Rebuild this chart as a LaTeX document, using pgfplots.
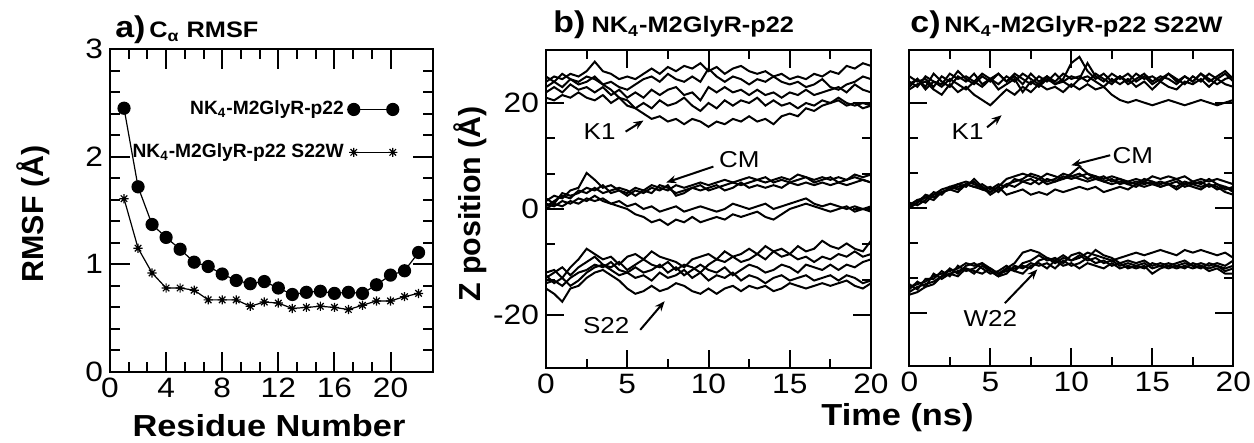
\documentclass[border=0pt]{standalone}
\usepackage{fontspec}
\setmainfont{Liberation Sans}
\usepackage{graphicx}
\usepackage{pgfplots}
\usepackage{pgfplotstable}
\pgfplotsset{compat=1.18}
\usetikzlibrary{arrows.meta}
\newcommand{\hs}[1]{\scalebox{1.13}[1]{#1}}

\pgfdeclareplotmark{xstar}{%
  \pgfpathmoveto{\pgfqpoint{-\pgfplotmarksize}{0pt}}\pgfpathlineto{\pgfqpoint{\pgfplotmarksize}{0pt}}%
  \pgfpathmoveto{\pgfqpoint{0pt}{-\pgfplotmarksize}}\pgfpathlineto{\pgfqpoint{0pt}{\pgfplotmarksize}}%
  \pgfpathmoveto{\pgfqpoint{-0.707\pgfplotmarksize}{-0.707\pgfplotmarksize}}\pgfpathlineto{\pgfqpoint{0.707\pgfplotmarksize}{0.707\pgfplotmarksize}}%
  \pgfpathmoveto{\pgfqpoint{-0.707\pgfplotmarksize}{0.707\pgfplotmarksize}}\pgfpathlineto{\pgfqpoint{0.707\pgfplotmarksize}{-0.707\pgfplotmarksize}}%
  \pgfusepathqstroke}

\pgfplotstableread{
x y
1 2.45
2 1.72
3 1.37
4 1.25
5 1.14
6 1.02
7 0.98
8 0.91
9 0.85
10 0.82
11 0.84
12 0.78
13 0.72
14 0.74
15 0.75
16 0.73
17 0.74
18 0.73
19 0.81
20 0.90
21 0.94
22 1.11
}\rmsfA

\pgfplotstableread{
x y
1 1.61
2 1.15
3 0.92
4 0.78
5 0.78
6 0.76
7 0.67
8 0.67
9 0.67
10 0.61
11 0.65
12 0.64
13 0.59
14 0.60
15 0.61
16 0.60
17 0.58
18 0.62
19 0.66
20 0.66
21 0.70
22 0.73
}\rmsfB

\pgfplotstableread{
t A B C D E
0.0 24.0 25.0 22.0 21.0 23.0
0.5 25.0 24.0 23.0 20.5 24.0
1.0 24.5 25.5 22.0 21.5 23.0
1.5 25.5 24.5 23.5 21.0 24.5
2.0 25.0 24.0 22.5 22.0 23.5
2.5 26.0 25.0 23.0 21.0 24.0
3.0 27.8 24.5 22.0 20.5 25.0
3.5 26.0 23.5 23.0 21.5 23.5
4.0 25.5 24.0 21.5 20.0 22.5
4.5 24.5 23.0 22.5 21.0 21.0
5.0 25.0 22.5 21.0 19.5 20.5
5.5 24.5 23.5 22.0 19.0 19.0
6.0 25.5 24.5 21.0 20.0 18.0
6.5 26.5 25.0 22.5 19.0 17.0
7.0 25.5 24.0 21.5 20.5 17.5
7.5 26.8 25.5 22.5 19.5 16.5
8.0 26.0 24.5 23.0 20.0 17.0
8.5 27.0 24.0 21.5 21.0 16.0
9.0 26.5 25.0 22.0 19.5 17.0
9.5 27.5 24.0 20.5 18.5 16.5
10.0 26.0 26.5 23.0 20.0 15.5
10.5 26.8 25.0 22.0 19.0 16.5
11.0 25.5 24.0 23.0 20.5 16.0
11.5 26.5 25.0 22.0 19.5 17.0
12.0 27.0 24.5 22.5 20.5 16.5
12.5 26.0 23.5 21.5 20.0 17.5
13.0 25.5 24.5 22.5 21.0 16.5
13.5 26.0 24.0 21.5 19.5 17.0
14.0 25.0 25.0 22.0 20.5 16.0
14.5 25.5 24.0 21.0 19.5 17.5
15.0 24.5 23.5 22.0 20.0 18.0
15.5 25.0 24.0 21.5 19.0 17.5
16.0 24.5 23.0 22.5 20.0 19.0
16.5 25.5 23.5 21.5 19.5 18.5
17.0 25.0 24.5 22.0 20.5 19.5
17.5 26.0 23.0 22.5 20.0 20.0
18.0 25.5 22.5 23.0 21.0 20.5
18.5 27.0 23.5 22.0 20.0 19.5
19.0 26.5 24.0 23.5 19.5 20.0
19.5 27.5 25.0 22.5 20.0 19.0
20.0 27.0 24.5 22.0 19.5 19.5
}\bK

\pgfplotstableread{
t A B C D E
0.0 1.5 0.5 2.0 1.0 0.0
0.5 2.5 1.5 1.0 0.5 1.0
1.0 2.0 2.5 3.0 1.5 0.5
1.5 3.5 2.0 2.5 1.0 1.5
2.0 4.0 3.5 3.0 2.0 1.0
2.5 6.8 3.0 4.0 1.5 2.0
3.0 5.5 4.0 3.5 2.5 1.5
3.5 4.0 3.0 4.5 1.5 2.0
4.0 4.5 3.5 3.0 1.0 1.0
4.5 3.5 4.0 3.5 1.5 0.5
5.0 3.0 3.5 2.5 0.5 0.0
5.5 4.0 2.5 3.5 1.0 -1.0
6.0 3.5 3.5 3.0 0.0 -1.5
6.5 4.5 3.0 4.0 0.5 -2.5
7.0 4.0 4.5 3.5 -0.5 -2.0
7.5 3.5 4.0 4.5 0.0 -3.0
8.0 4.5 3.0 2.5 0.5 -2.0
8.5 4.0 3.5 3.0 -0.5 -2.5
9.0 4.5 4.0 4.0 0.0 -1.5
9.5 5.0 4.5 3.5 0.5 -2.5
10.0 4.5 3.5 4.0 0.0 -2.0
10.5 5.0 4.0 4.5 -0.5 -1.5
11.0 5.5 4.5 3.5 0.0 -2.0
11.5 5.0 5.0 4.0 1.0 -1.0
12.0 5.5 4.5 5.0 0.5 -1.5
12.5 6.0 5.0 4.0 0.0 -1.0
13.0 5.5 5.5 4.5 0.5 -0.5
13.5 5.0 6.0 4.0 1.0 -1.5
14.0 5.5 5.0 4.5 0.0 -2.0
14.5 6.0 5.5 4.0 0.5 -1.0
15.0 5.5 5.0 5.0 1.0 0.0
15.5 6.5 5.5 4.5 1.5 0.5
16.0 6.0 6.0 5.0 2.0 1.0
16.5 5.5 5.0 4.5 1.0 0.5
17.0 6.0 5.5 5.0 0.5 0.0
17.5 5.5 6.0 4.5 1.0 -0.5
18.0 6.0 5.0 5.0 0.5 0.0
18.5 5.5 5.5 4.5 0.0 0.5
19.0 6.5 6.0 5.0 0.5 -0.5
19.5 6.0 5.5 5.5 0.0 0.0
20.0 6.5 5.0 5.0 0.5 -0.5
}\bCM

\pgfplotstableread{
t A B C D E
0.0 -12.0 -13.0 -14.0 -12.5 -15.0
0.5 -11.5 -12.0 -13.5 -14.0 -16.0
1.0 -13.0 -11.0 -14.5 -13.0 -17.5
1.5 -11.0 -12.5 -13.0 -14.5 -15.0
2.0 -9.5 -11.0 -12.0 -13.5 -14.5
2.5 -7.5 -10.0 -11.5 -12.0 -13.0
3.0 -8.5 -9.0 -10.5 -11.0 -12.0
3.5 -9.5 -10.5 -11.0 -10.5 -11.5
4.0 -9.0 -11.0 -10.0 -11.5 -12.5
4.5 -10.5 -10.0 -11.5 -12.5 -13.5
5.0 -9.0 -11.5 -12.0 -12.0 -15.0
5.5 -8.5 -10.5 -11.0 -13.0 -16.0
6.0 -9.5 -9.5 -12.0 -12.5 -15.5
6.5 -8.0 -10.5 -11.5 -13.5 -14.5
7.0 -9.0 -11.0 -10.5 -12.0 -15.5
7.5 -9.5 -10.0 -12.0 -13.0 -15.0
8.0 -10.0 -11.5 -11.0 -12.5 -14.0
8.5 -11.0 -10.5 -12.5 -11.5 -14.5
9.0 -9.5 -11.0 -11.5 -13.0 -15.5
9.5 -9.0 -12.0 -10.5 -12.0 -16.0
10.0 -8.5 -10.5 -11.5 -13.5 -15.0
10.5 -9.5 -9.5 -12.0 -12.5 -16.0
11.0 -8.0 -10.0 -11.0 -13.0 -15.0
11.5 -9.0 -9.0 -12.5 -12.0 -14.5
12.0 -8.5 -10.0 -11.5 -13.5 -15.5
12.5 -7.5 -9.5 -10.5 -12.5 -14.5
13.0 -8.5 -8.5 -11.0 -13.0 -15.0
13.5 -7.0 -9.5 -12.0 -14.0 -14.5
14.0 -8.0 -8.0 -11.5 -13.0 -15.5
14.5 -7.5 -9.0 -10.5 -12.5 -15.0
15.0 -8.5 -8.5 -11.0 -13.5 -14.0
15.5 -7.0 -9.5 -12.0 -13.0 -14.5
16.0 -8.0 -9.0 -10.5 -12.5 -15.0
16.5 -7.5 -10.0 -11.0 -13.5 -14.5
17.0 -6.0 -9.0 -11.5 -13.0 -14.0
17.5 -7.0 -9.5 -10.5 -12.5 -14.5
18.0 -7.5 -8.5 -11.5 -13.5 -14.0
18.5 -6.5 -9.0 -10.5 -12.5 -13.5
19.0 -7.5 -8.0 -11.0 -13.0 -14.5
19.5 -8.0 -9.0 -10.0 -14.0 -15.0
20.0 -6.0 -8.5 -9.5 -13.5 -14.0
}\bS

\pgfplotstableread{
t A B C D E
0.0 24.0 23.5 25.0 22.5 23.0
0.5 23.0 24.5 24.0 23.5 24.5
1.0 25.0 23.0 24.5 24.0 22.5
1.5 24.0 25.5 23.0 22.5 24.0
2.0 23.5 24.0 25.0 21.5 23.0
2.5 25.5 23.0 24.0 23.5 24.5
3.0 24.5 25.0 26.0 22.0 23.5
3.5 25.0 24.0 24.5 23.0 22.5
4.0 24.0 25.5 23.5 21.5 24.0
4.5 25.5 23.5 25.0 20.5 23.0
5.0 24.5 24.5 24.0 19.5 24.5
5.5 23.5 25.5 25.5 21.0 22.5
6.0 25.0 24.0 24.0 22.5 23.5
6.5 24.0 25.0 25.5 21.5 24.5
7.0 25.5 23.5 24.5 23.0 22.0
7.5 24.5 25.5 23.5 22.0 24.0
8.0 23.5 24.0 25.0 23.5 23.0
8.5 25.0 25.0 24.0 22.5 24.5
9.0 24.0 23.5 25.5 23.0 23.5
9.5 25.5 24.5 24.0 22.0 24.0
10.0 24.5 27.5 25.0 23.5 23.0
10.5 25.0 28.7 24.5 22.5 24.5
11.0 24.0 26.0 27.5 23.5 25.0
11.5 25.5 24.5 25.0 22.5 24.0
12.0 24.5 25.5 24.0 23.0 23.0
12.5 23.5 24.0 25.5 21.5 24.5
13.0 25.0 25.0 24.5 20.5 23.5
13.5 24.0 23.5 25.5 20.0 24.5
14.0 25.5 24.5 24.0 20.5 23.0
14.5 24.5 25.5 25.0 20.0 24.0
15.0 25.0 24.0 23.5 19.5 22.5
15.5 24.0 25.0 24.5 20.0 24.0
16.0 25.5 24.5 25.5 20.5 23.0
16.5 24.5 23.5 24.0 20.0 22.5
17.0 23.5 25.0 25.0 19.5 24.0
17.5 25.0 24.0 24.0 20.0 23.5
18.0 24.0 25.5 25.5 20.5 24.5
18.5 25.5 24.5 24.0 20.0 23.0
19.0 24.5 23.5 25.0 19.5 24.5
19.5 25.5 24.5 26.0 20.0 23.5
20.0 24.0 25.0 24.5 20.5 23.0
}\cK

\pgfplotstableread{
t A B C D E
0.0 0.5 0.0 1.0 0.5 0.0
0.5 1.5 1.0 0.5 1.5 1.0
1.0 2.0 2.5 1.5 1.0 2.0
1.5 2.5 2.0 3.0 2.5 1.5
2.0 3.5 3.0 2.5 3.0 3.0
2.5 4.0 3.5 4.0 3.5 3.5
3.0 4.5 4.0 3.5 4.5 3.0
3.5 5.0 4.5 4.5 4.0 4.5
4.0 4.5 5.0 4.0 5.5 4.0
4.5 4.0 3.5 4.5 4.0 3.5
5.0 3.0 4.0 3.5 2.5 3.0
5.5 4.0 3.0 4.5 3.5 4.0
6.0 5.5 4.5 4.0 4.5 2.5
6.5 6.0 5.0 5.5 4.0 3.0
7.0 6.5 5.5 5.0 5.0 3.5
7.5 6.0 6.5 5.5 4.5 2.5
8.0 5.5 6.0 4.5 5.5 3.0
8.5 6.5 5.0 5.5 4.5 2.5
9.0 6.0 5.5 5.0 5.0 3.5
9.5 5.5 6.5 6.0 5.5 3.0
10.0 6.5 6.0 5.5 6.0 3.5
10.5 7.8 6.5 6.0 5.5 4.0
11.0 6.5 5.5 6.5 5.0 3.5
11.5 6.0 6.0 5.5 5.5 4.0
12.0 5.5 5.0 6.0 5.0 3.0
12.5 6.0 5.5 5.0 4.5 3.5
13.0 5.5 4.5 5.5 5.0 4.0
13.5 5.0 5.0 4.5 4.5 3.5
14.0 5.5 4.5 5.0 4.0 4.5
14.5 5.0 5.5 4.5 5.0 4.0
15.0 6.0 5.0 5.0 4.5 4.5
15.5 5.5 4.5 4.0 5.0 4.0
16.0 6.0 5.0 4.5 4.5 4.5
16.5 5.5 5.5 4.0 5.0 3.5
17.0 6.0 4.5 5.0 4.0 4.5
17.5 5.0 5.0 4.5 4.5 4.0
18.0 5.5 4.5 4.0 5.0 3.5
18.5 5.0 5.5 4.5 4.0 4.5
19.0 5.5 4.5 3.5 4.5 4.0
19.5 5.0 4.0 4.0 3.5 3.0
20.0 4.5 3.5 3.0 4.0 2.5
}\cCM

\pgfplotstableread{
t A B C D E
0.0 -15.0 -16.0 -14.5 -15.5 -16.5
0.5 -14.5 -15.0 -15.5 -14.0 -16.0
1.0 -14.0 -14.5 -13.5 -15.0 -15.0
1.5 -13.0 -14.0 -13.5 -12.5 -14.5
2.0 -12.5 -13.0 -12.0 -13.5 -13.0
2.5 -12.0 -11.5 -13.0 -12.5 -12.5
3.0 -11.5 -12.5 -11.0 -12.0 -13.0
3.5 -10.5 -11.0 -12.0 -11.5 -11.5
4.0 -11.0 -10.5 -11.5 -12.5 -12.0
4.5 -10.5 -11.5 -10.5 -11.0 -12.5
5.0 -12.0 -12.5 -11.5 -12.0 -11.5
5.5 -13.0 -12.0 -12.5 -13.0 -12.5
6.0 -11.5 -11.0 -12.0 -12.5 -11.5
6.5 -10.5 -12.0 -11.5 -11.0 -12.0
7.0 -8.5 -10.5 -11.0 -11.5 -12.5
7.5 -8.0 -10.0 -11.5 -10.5 -11.0
8.0 -8.5 -9.0 -10.0 -11.0 -10.5
8.5 -9.5 -10.0 -9.5 -10.5 -11.5
9.0 -10.0 -9.5 -10.5 -11.5 -10.0
9.5 -9.0 -10.5 -9.5 -10.0 -11.0
10.0 -10.0 -9.0 -10.0 -11.0 -10.5
10.5 -9.5 -8.5 -9.0 -10.5 -11.5
11.0 -8.5 -9.5 -10.0 -9.5 -10.5
11.5 -9.0 -8.0 -9.5 -10.5 -11.0
12.0 -9.5 -9.0 -10.5 -10.0 -11.5
12.5 -10.0 -9.5 -10.0 -11.0 -10.5
13.0 -9.5 -10.5 -11.0 -10.5 -11.5
13.5 -9.0 -10.0 -10.5 -11.5 -11.0
14.0 -8.5 -10.5 -11.0 -11.0 -11.5
14.5 -9.0 -10.0 -11.5 -10.5 -11.0
15.0 -8.5 -11.0 -10.5 -11.5 -12.5
15.5 -8.0 -10.5 -11.0 -11.0 -11.5
16.0 -8.5 -11.0 -10.5 -11.5 -11.0
16.5 -9.0 -10.5 -11.0 -11.0 -11.5
17.0 -8.0 -10.0 -10.5 -11.5 -11.0
17.5 -8.5 -11.0 -11.0 -10.5 -11.5
18.0 -8.0 -10.5 -11.5 -11.0 -11.0
18.5 -8.5 -11.0 -10.5 -11.5 -12.0
19.0 -9.0 -10.5 -11.0 -11.0 -11.5
19.5 -8.5 -11.0 -11.5 -12.0 -12.5
20.0 -9.5 -10.0 -11.0 -11.5 -12.5
}\cW

\pgfplotsset{
  myax/.style={
    scale only axis, anchor=north west,
    axis line style={line width=1pt},
    every tick/.style={line width=1pt, black},
    major tick length=9pt, minor tick length=4.5pt,
    tick align=inside,
    ticklabel style={font=\fontsize{14}{16}\selectfont},
    xticklabel style={inner sep=0pt, yshift=-3pt},
    xticklabel={\hs{\pgfmathprintnumber{\tick}}},
    /pgf/number format/assume math mode=true,
  },
  tsax/.style={myax, xmin=0, xmax=20, ymin=-30, ymax=30,
    xtick={0,5,...,20}, minor x tick num=1,
    ytick={-20,0,20}, minor y tick num=2,
    every axis plot post/.append style={black, line width=1pt, mark=none, solid}},
}

\begin{document}
\begin{tikzpicture}
\useasboundingbox (0,0) rectangle (627pt,-221.5pt);

% ---------- panel a ----------
\begin{axis}[myax, at={(55pt,-24.5pt)}, width=161.3pt, height=161.5pt,
  xmin=0, xmax=23, ymin=0, ymax=3,
  xtick={0,4,...,20}, minor x tick num=2,
  ytick={0,1,2,3}, minor y tick num=4,
  yticklabel={\hs{\pgfmathprintnumber{\tick}}},
  major tick length=10pt, minor tick length=5pt,
  legend style={draw=none, fill=none, at={(0.915,0.865)}, anchor=north east,
    font=\bfseries\fontsize{9.6}{11}\selectfont, row sep=9pt},
  legend cell align=right, legend plot pos=right,
  legend image code/.code={\draw[#1, mark repeat=1, mark phase=1] plot coordinates {(0pt,0pt) (19.5pt,0pt)};},
]
\addplot[black, line width=0.6pt, mark=*, mark size=3pt] table[x=x,y=y] {\rmsfA};
\addlegendentry{NK\textsubscript{4}-M2GlyR-p22}
\addplot[black, line width=0.6pt, mark=xstar, mark size=2.3pt, mark options={line width=0.6pt}] table[x=x,y=y] {\rmsfB};
\addlegendentry{NK\textsubscript{4}-M2GlyR-p22 S22W}
\end{axis}

% ---------- panel b ----------
\begin{axis}[tsax, at={(273pt,-25pt)}, width=162.5pt, height=159pt,
  yticklabel={\hs{\pgfmathprintnumber{\tick}}}]
\pgfplotsinvokeforeach{A,B,C,D,E}{\addplot table[x=t,y=#1] {\bK};}
\pgfplotsinvokeforeach{A,B,C,D,E}{\addplot table[x=t,y=#1] {\bCM};}
\pgfplotsinvokeforeach{A,B,C,D,E}{\addplot table[x=t,y=#1] {\bS};}
\node[font=\fontsize{11.5}{13}\selectfont] at (axis cs:3.3,14.6) {\hs{K1}};
\draw[-{Stealth[length=5pt,width=4pt]}, line width=1pt] (axis cs:4.9,14.6) -- (axis cs:6.0,16.7);
\node[font=\fontsize{11.5}{13}\selectfont] at (axis cs:11.9,9.4) {\hs{CM}};
\draw[-{Stealth[length=5pt,width=4pt]}, line width=1pt] (axis cs:10.3,8.0) -- (axis cs:7.4,5.0);
\node[font=\fontsize{11.5}{13}\selectfont] at (axis cs:3.7,-22.0) {\hs{S22}};
\draw[-{Stealth[length=5pt,width=4pt]}, line width=1pt] (axis cs:5.8,-22.8) -- (axis cs:7.3,-17.4);
\end{axis}

% ---------- panel c ----------
\begin{axis}[tsax, at={(454.65pt,-25pt)}, width=162pt, height=157.9pt, yticklabels={,,}]
\pgfplotsinvokeforeach{A,B,C,D,E}{\addplot table[x=t,y=#1] {\cK};}
\pgfplotsinvokeforeach{A,B,C,D,E}{\addplot table[x=t,y=#1] {\cCM};}
\pgfplotsinvokeforeach{A,B,C,D,E}{\addplot table[x=t,y=#1] {\cW};}
\node[font=\fontsize{11.5}{13}\selectfont] at (axis cs:3.6,14.5) {\hs{K1}};
\draw[-{Stealth[length=5pt,width=4pt]}, line width=1pt] (axis cs:4.8,15.3) -- (axis cs:5.7,17.6);
\node[font=\fontsize{11.5}{13}\selectfont] at (axis cs:13.8,10.0) {\hs{CM}};
\draw[-{Stealth[length=5pt,width=4pt]}, line width=1pt] (axis cs:12.4,10.0) -- (axis cs:10.0,8.1);
\node[font=\fontsize{11.5}{13}\selectfont] at (axis cs:5.0,-21.0) {\hs{W22}};
\draw[-{Stealth[length=5pt,width=4pt]}, line width=1pt] (axis cs:5.9,-18.1) -- (axis cs:7.9,-11.7);
\end{axis}

% ---------- titles and axis labels ----------
\node[anchor=base west, inner sep=0pt, font=\bfseries] at (57.5pt,-19pt)
  {\hs{{\fontsize{15}{17}\selectfont a)}\,{\fontsize{11.2}{13}\selectfont C\textsubscript{α} RMSF}}};
\node[anchor=base west, inner sep=0pt, font=\bfseries] at (276.5pt,-16.5pt)
  {\hs{{\fontsize{15}{17}\selectfont b)} {\fontsize{11.2}{13}\selectfont NK\textsubscript{4}-M2GlyR-p22}}};
\node[anchor=base west, inner sep=0pt, font=\bfseries] at (455pt,-16.5pt)
  {\hs{{\fontsize{15}{17}\selectfont c)}\,{\fontsize{11.2}{13}\selectfont NK\textsubscript{4}-M2GlyR-p22 S22W}}};

\node[rotate=90, font=\bfseries\fontsize{15.2}{17}\selectfont, inner sep=0pt] at (16.5pt,-107pt) {RMSF (Å)};
\node[anchor=base, font=\bfseries\fontsize{15.2}{17}\selectfont, inner sep=0pt] at (134.5pt,-218.3pt) {\hs{Residue Number}};
\node[rotate=90, font=\bfseries\fontsize{15.2}{17}\selectfont, inner sep=0pt] at (235pt,-102pt) {Z position (Å)};
\node[anchor=base, font=\bfseries\fontsize{15.2}{17}\selectfont, inner sep=0pt] at (448.75pt,-212.5pt) {\hs{Time (ns)}};
\end{tikzpicture}
\end{document}
